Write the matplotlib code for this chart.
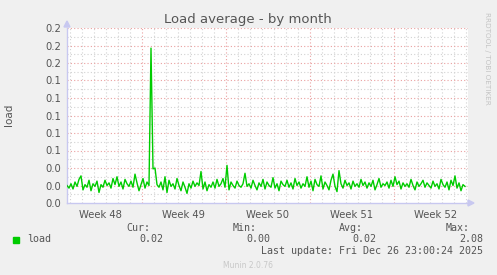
import matplotlib
matplotlib.use("Agg")
import matplotlib.pyplot as plt
from matplotlib.ticker import FixedLocator, MultipleLocator, FuncFormatter
import numpy as np

# ---- data ----
# days relative to Mon Dec 1, sampled every 4 hours
start_day = -6.25
step_day = 1.0 / 6.0
load = [
    0.020, 0.017, 0.022, 0.016, 0.024, 0.019, 0.027, 0.031, 0.015, 0.021,
    0.018, 0.026, 0.014, 0.022, 0.019, 0.025, 0.012, 0.021, 0.018, 0.026,
    0.020, 0.023, 0.017, 0.028, 0.021, 0.030, 0.019, 0.024, 0.016, 0.027,
    0.022, 0.019, 0.025, 0.018, 0.033, 0.023, 0.014, 0.021, 0.028, 0.017,
    0.024, 0.020, 0.177, 0.039, 0.040, 0.021, 0.018, 0.024, 0.015, 0.030,
    0.012, 0.026, 0.019, 0.022, 0.016, 0.028, 0.020, 0.014, 0.024, 0.018,
    0.011, 0.022, 0.017, 0.025, 0.019, 0.023, 0.020, 0.036, 0.016, 0.024,
    0.014, 0.021, 0.018, 0.024, 0.017, 0.027, 0.019, 0.022, 0.028, 0.018,
    0.043, 0.015, 0.024, 0.020, 0.017, 0.025, 0.020, 0.018, 0.022, 0.034,
    0.019, 0.022, 0.017, 0.026, 0.020, 0.015, 0.023, 0.019, 0.027, 0.016,
    0.024, 0.020, 0.018, 0.029, 0.017, 0.022, 0.014, 0.025, 0.021, 0.019,
    0.026, 0.018, 0.023, 0.016, 0.028, 0.020, 0.024, 0.017, 0.022, 0.019,
    0.030, 0.018, 0.025, 0.014, 0.027, 0.021, 0.019, 0.031, 0.016, 0.024,
    0.020, 0.015, 0.026, 0.033, 0.019, 0.013, 0.037, 0.022, 0.017, 0.026,
    0.020, 0.023, 0.016, 0.025, 0.019, 0.022, 0.018, 0.027, 0.020, 0.024,
    0.017, 0.023, 0.019, 0.026, 0.015, 0.021, 0.028, 0.018, 0.022, 0.020,
    0.024, 0.017, 0.026, 0.019, 0.030, 0.021, 0.025, 0.016, 0.023, 0.019,
    0.022, 0.018, 0.027, 0.020, 0.015, 0.024, 0.019, 0.022, 0.026, 0.018,
    0.023, 0.020, 0.017, 0.025, 0.019, 0.022, 0.016, 0.027, 0.021, 0.018,
    0.024, 0.015, 0.026, 0.020, 0.031, 0.017, 0.023, 0.014, 0.021, 0.019,
]
week_labels = ["Week 48", "Week 49", "Week 50", "Week 51", "Week 52"]
week_starts = [-7, 0, 7, 14, 21]
y_ticks = [0.00, 0.02, 0.04, 0.06, 0.08, 0.10, 0.12, 0.14, 0.16, 0.18, 0.20]
legend_name = "load"
stat_names = ["Cur:", "Min:", "Avg:", "Max:"]
stat_values = ["0.02", "0.00", "0.02", "2.08"]
last_update = "Last update: Fri Dec 26 23:00:24 2025"

days = start_day + step_day * np.arange(len(load))

W, H = 497, 275
fig = plt.figure(figsize=(W / 100, H / 100), dpi=100)
fig.patch.set_facecolor("#f0f0f0")

def fx(px):
    return px / W

def fy(py):
    return 1 - py / H

L, R, T, B = 67, 468, 28, 203
ax = fig.add_axes([fx(L), fy(B), fx(R - L), (B - T) / H])
ax.set_facecolor("white")
xmin, xmax = start_day, start_day + (R - L) / 12.0
ax.set_xlim(xmin, xmax)
ax.set_ylim(0, 0.20)

# grid
minor_col = "#d2d2d2"
major_col = "#eaa0a0"
dots = (0, (1, 2))
for d in np.arange(np.ceil(xmin), xmax, 1):
    if int(round(d)) % 7 != 0:
        ax.axvline(d, color=minor_col, lw=0.8, ls=dots, zorder=1)
for d in week_starts:
    if xmin < d < xmax:
        ax.axvline(d, color=major_col, lw=0.8, ls=dots, zorder=1)
for v in np.arange(0.01, 0.20, 0.02):
    ax.axhline(v, color=minor_col, lw=0.8, ls=dots, zorder=1)
for v in y_ticks[1:]:
    ax.axhline(v, color=major_col, lw=0.8, ls=dots, zorder=1)

ax.plot(days, load, color="#00cc00", lw=1.0, zorder=3)

# ticks
ax.yaxis.set_major_locator(FixedLocator(y_ticks))
ax.yaxis.set_major_formatter(FuncFormatter(lambda v, p: f"{v:.1f}"))
mid = [w + 3.5 for w in week_starts]
ax.xaxis.set_major_locator(FixedLocator(mid))
ax.set_xticklabels(week_labels)
ax.tick_params(axis="both", length=0, labelsize=7.2, colors="#555555", pad=4)
ax.tick_params(axis="x", pad=5)

for s in ["top", "right"]:
    ax.spines[s].set_visible(False)
for s in ["left", "bottom"]:
    ax.spines[s].set_color("#c8c8f0")
    ax.spines[s].set_linewidth(1.0)

# arrowheads
fig.patches.append(plt.Polygon([[fx(64), fy(27)], [fx(70), fy(27)], [fx(67), fy(21)]],
                               closed=True, color="#c8c8f0", transform=fig.transFigure))
fig.patches.append(plt.Polygon([[fx(468), fy(200)], [fx(468), fy(206)], [fx(474), fy(203)]],
                               closed=True, color="#c8c8f0", transform=fig.transFigure))

# title & labels
fig.text(fx(248), fy(19), "Load average - by month", ha="center", va="center",
         fontsize=9.5, color="#555555")
fig.text(fx(9), fy(115), "load", ha="center", va="center", rotation=90,
         fontsize=7.5, color="#555555")
fig.text(fx(487), fy(58), "RRDTOOL / TOBI OETIKER", ha="center", va="center",
         rotation=270, fontsize=5.2, color="#c4c4c4")

# legend
mono = "DejaVu Sans Mono"
fig.patches.append(plt.Rectangle((fx(13), fy(243)), 6 / W, 6 / H, color="#00cc00",
                                 transform=fig.transFigure))
fig.text(fx(27), fy(239), legend_name, ha="left", va="center", family=mono,
         fontsize=7.2, color="#555555")
val_right = [163, 270, 376, 483]
for name, val, r in zip(stat_names, stat_values, val_right):
    fig.text(fx(r - 13), fy(228), name, ha="right", va="center", family=mono,
             fontsize=7.2, color="#555555")
    fig.text(fx(r), fy(239), val, ha="right", va="center", family=mono,
             fontsize=7.2, color="#555555")
fig.text(fx(483), fy(251), last_update, ha="right", va="center", family=mono,
         fontsize=7.2, color="#555555")
fig.text(fx(248), fy(266), "Munin 2.0.76", ha="center", va="center",
         fontsize=5.5, color="#c8c8c8")

fig.savefig("out.png", dpi=100, facecolor=fig.get_facecolor())
